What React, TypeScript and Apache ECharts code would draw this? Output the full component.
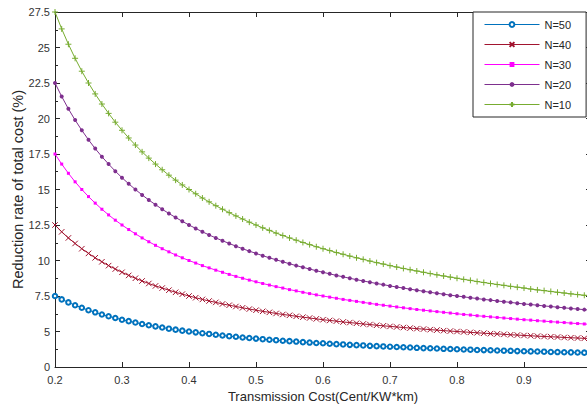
import React, { useEffect, useRef } from "react";
import * as echarts from "echarts";

const xValues = [
  0.2, 0.21, 0.22, 0.23, 0.24, 0.25, 0.26, 0.27, 0.28, 0.29,
  0.3, 0.31, 0.32, 0.33, 0.34, 0.35, 0.36, 0.37, 0.38, 0.39,
  0.4, 0.41, 0.42, 0.43, 0.44, 0.45, 0.46, 0.47, 0.48, 0.49,
  0.5, 0.51, 0.52, 0.53, 0.54, 0.55, 0.56, 0.57, 0.58, 0.59,
  0.6, 0.61, 0.62, 0.63, 0.64, 0.65, 0.66, 0.67, 0.68, 0.69,
  0.7, 0.71, 0.72, 0.73, 0.74, 0.75, 0.76, 0.77, 0.78, 0.79,
  0.8, 0.81, 0.82, 0.83, 0.84, 0.85, 0.86, 0.87, 0.88, 0.89,
  0.9, 0.91, 0.92, 0.93, 0.94, 0.95, 0.96, 0.97, 0.98, 0.99,
  1.0,
];

const n50 = [
  7.5, 7.26, 7.05, 6.85, 6.67, 6.5, 6.35, 6.2, 6.07, 5.95,
  5.83, 5.73, 5.63, 5.53, 5.44, 5.36, 5.28, 5.2, 5.13, 5.06,
  5.0, 4.94, 4.88, 4.83, 4.77, 4.72, 4.67, 4.63, 4.58, 4.54,
  4.5, 4.46, 4.42, 4.39, 4.35, 4.32, 4.29, 4.25, 4.22, 4.19,
  4.17, 4.14, 4.11, 4.09, 4.06, 4.04, 4.02, 3.99, 3.97, 3.95,
  3.93, 3.91, 3.89, 3.87, 3.85, 3.83, 3.82, 3.8, 3.78, 3.77,
  3.75, 3.73, 3.72, 3.7, 3.69, 3.68, 3.66, 3.65, 3.64, 3.62,
  3.61, 3.6, 3.59, 3.58, 3.56, 3.55, 3.54, 3.53, 3.52, 3.51,
  3.5,
];

const n40 = [
  12.5, 12.02, 11.59, 11.2, 10.83, 10.5, 10.19, 9.91, 9.64, 9.4,
  9.17, 8.95, 8.75, 8.56, 8.38, 8.21, 8.06, 7.91, 7.76, 7.63,
  7.5, 7.38, 7.26, 7.15, 7.05, 6.94, 6.85, 6.76, 6.67, 6.58,
  6.5, 6.42, 6.35, 6.27, 6.2, 6.14, 6.07, 6.01, 5.95, 5.89,
  5.83, 5.78, 5.73, 5.67, 5.63, 5.58, 5.53, 5.49, 5.44, 5.4,
  5.36, 5.32, 5.28, 5.24, 5.2, 5.17, 5.13, 5.1, 5.06, 5.03,
  5.0, 4.97, 4.94, 4.91, 4.88, 4.85, 4.83, 4.8, 4.77, 4.75,
  4.72, 4.7, 4.67, 4.65, 4.63, 4.61, 4.58, 4.56, 4.54, 4.52,
  4.5,
];

const n30 = [
  17.5, 16.79, 16.14, 15.54, 15.0, 14.5, 14.04, 13.61, 13.21, 12.84,
  12.5, 12.18, 11.88, 11.59, 11.32, 11.07, 10.83, 10.61, 10.39, 10.19,
  10.0, 9.82, 9.64, 9.48, 9.32, 9.17, 9.02, 8.88, 8.75, 8.62,
  8.5, 8.38, 8.27, 8.16, 8.06, 7.95, 7.86, 7.76, 7.67, 7.58,
  7.5, 7.42, 7.34, 7.26, 7.19, 7.12, 7.05, 6.98, 6.91, 6.85,
  6.79, 6.73, 6.67, 6.61, 6.55, 6.5, 6.45, 6.4, 6.35, 6.3,
  6.25, 6.2, 6.16, 6.11, 6.07, 6.03, 5.99, 5.95, 5.91, 5.87,
  5.83, 5.8, 5.76, 5.73, 5.69, 5.66, 5.63, 5.59, 5.56, 5.53,
  5.5,
];

const n20 = [
  22.5, 21.55, 20.68, 19.89, 19.17, 18.5, 17.88, 17.31, 16.79, 16.29,
  15.83, 15.4, 15.0, 14.62, 14.26, 13.93, 13.61, 13.31, 13.03, 12.76,
  12.5, 12.26, 12.02, 11.8, 11.59, 11.39, 11.2, 11.01, 10.83, 10.66,
  10.5, 10.34, 10.19, 10.05, 9.91, 9.77, 9.64, 9.52, 9.4, 9.28,
  9.17, 9.06, 8.95, 8.85, 8.75, 8.65, 8.56, 8.47, 8.38, 8.3,
  8.21, 8.13, 8.06, 7.98, 7.91, 7.83, 7.76, 7.69, 7.63, 7.56,
  7.5, 7.44, 7.38, 7.32, 7.26, 7.21, 7.15, 7.1, 7.05, 6.99,
  6.94, 6.9, 6.85, 6.8, 6.76, 6.71, 6.67, 6.62, 6.58, 6.54,
  6.5,
];

const n10 = [
  27.5, 26.31, 25.23, 24.24, 23.33, 22.5, 21.73, 21.02, 20.36, 19.74,
  19.17, 18.63, 18.13, 17.65, 17.21, 16.79, 16.39, 16.01, 15.66, 15.32,
  15.0, 14.7, 14.4, 14.13, 13.86, 13.61, 13.37, 13.14, 12.92, 12.7,
  12.5, 12.3, 12.12, 11.93, 11.76, 11.59, 11.43, 11.27, 11.12, 10.97,
  10.83, 10.7, 10.56, 10.44, 10.31, 10.19, 10.08, 9.96, 9.85, 9.75,
  9.64, 9.54, 9.44, 9.35, 9.26, 9.17, 9.08, 8.99, 8.91, 8.83,
  8.75, 8.67, 8.6, 8.52, 8.45, 8.38, 8.31, 8.25, 8.18, 8.12,
  8.06, 7.99, 7.93, 7.88, 7.82, 7.76, 7.71, 7.65, 7.6, 7.55,
  7.5,
];

const seriesNames = ["N=50", "N=40", "N=30", "N=20", "N=10"];
const seriesValues = [n50, n40, n30, n20, n10];

// Tick labels of the y axis, as printed (bottom tick reads "0")
const yTickLabels = ["0", "5", "7.5", "10", "12.5", "15", "17.5", "20", "22.5", "25", "27.5"];
const xTickLabels = ["0.2", "0.3", "0.4", "0.5", "0.6", "0.7", "0.8", "0.9"];

const colors = ["#0072BD", "#A2142F", "#FF00FF", "#7E2F8E", "#77AC30"];
const symbols = [
  "emptyCircle",
  "path://M0,0L10,10M10,0L0,10",
  "rect",
  "circle",
  "path://M5,0L5,10M0,5L10,5",
];
const symbolSizes = [4.5, 5.5, 3, 4, 6];

const FONT = "'Liberation Sans', Arial, Helvetica, sans-serif";
const AXIS_COLOR = "#262626";

export default function App() {
  const ref = useRef<HTMLDivElement>(null);

  useEffect(() => {
    if (!ref.current) return;
    const chart = echarts.init(ref.current, null, { renderer: "svg" });

    const series = seriesNames.map((name, i) => {
      const isPath = symbols[i].startsWith("path://");
      return {
        name,
        type: "line",
        xAxisIndex: 0,
        yAxisIndex: 0,
        data: xValues.map((x, j) => [x, seriesValues[i][j]]),
        symbol: symbols[i],
        symbolSize: symbolSizes[i],
        showSymbol: true,
        showAllSymbol: true,
        smooth: false,
        lineStyle: { color: colors[i], width: 1 },
        itemStyle:
          isPath || i === 0
            ? { color: colors[i], borderColor: colors[i], borderWidth: 1 }
            : { color: colors[i] },
        emphasis: { disabled: true },
        z: 2,
      };
    });

    const xFmt = (v: number) => {
      const idx = Math.round((v - 0.2) / 0.1);
      return idx >= 0 && idx < xTickLabels.length ? xTickLabels[idx] : "";
    };
    const yFmt = (v: number) => {
      const idx = Math.round((v - 2.5) / 2.5);
      return idx >= 0 && idx < yTickLabels.length ? yTickLabels[idx] : "";
    };

    const axisLine = { show: true, lineStyle: { color: AXIS_COLOR, width: 1 } };

    chart.setOption({
      animation: false,
      backgroundColor: "#ffffff",
      textStyle: { fontFamily: FONT },
      grid: {
        left: 55,
        right: -4,
        top: 12,
        bottom: 42,
        containLabel: false,
        outerBoundsMode: "none",
      },
      legend: {
        orient: "vertical",
        left: 473,
        top: 12,
        itemWidth: 55,
        itemHeight: 6,
        itemGap: 9,
        padding: [7, 15, 7, 11],
        backgroundColor: "#ffffff",
        borderColor: AXIS_COLOR,
        borderWidth: 1,
        borderRadius: 0,
        lineStyle: { width: 1 },
        textStyle: { fontFamily: FONT, fontSize: 11, color: AXIS_COLOR },
        data: seriesNames,
        selectedMode: false,
      },
      xAxis: [
        {
          type: "value",
          position: "bottom",
          min: 0.2,
          max: 1.0,
          interval: 0.1,
          name: "Transmission Cost(Cent/KW*km)",
          nameLocation: "middle",
          nameGap: 23,
          nameMoveOverlap: false,
          nameTextStyle: { fontFamily: FONT, fontSize: 13, color: AXIS_COLOR },
          axisLine,
          axisTick: { show: true, inside: true, length: 5, lineStyle: { color: AXIS_COLOR } },
          axisLabel: { formatter: xFmt, fontFamily: FONT, fontSize: 11, color: "#333", margin: 7 },
          splitLine: { show: false },
        },
        {
          type: "value",
          position: "top",
          min: 0.2,
          max: 1.0,
          interval: 0.1,
          axisLine,
          axisTick: { show: true, inside: true, length: 5, lineStyle: { color: AXIS_COLOR } },
          axisLabel: { show: false },
          splitLine: { show: false },
        },
      ],
      yAxis: [
        {
          type: "value",
          position: "left",
          min: 2.5,
          max: 27.5,
          interval: 2.5,
          name: "Reduction rate of total cost (%)",
          nameLocation: "middle",
          nameGap: 30,
          nameMoveOverlap: false,
          nameTextStyle: { fontFamily: FONT, fontSize: 14.5, color: AXIS_COLOR },
          axisLine,
          axisTick: { show: true, inside: true, length: 5, lineStyle: { color: AXIS_COLOR } },
          minorTick: { show: true, splitNumber: 2, length: 3, lineStyle: { color: AXIS_COLOR } },
          axisLabel: { formatter: yFmt, fontFamily: FONT, fontSize: 11, color: "#333", margin: 5 },
          splitLine: { show: false },
        },
        {
          type: "value",
          position: "right",
          min: 2.5,
          max: 27.5,
          interval: 2.5,
          axisLine,
          axisTick: { show: true, inside: true, length: 5, lineStyle: { color: AXIS_COLOR } },
          axisLabel: { show: false },
          splitLine: { show: false },
        },
      ],
      series,
    });

    return () => chart.dispose();
  }, []);

  return <div ref={ref} style={{ width: 587, height: 409, position: "absolute", left: 0, top: 0 }} />;
}
